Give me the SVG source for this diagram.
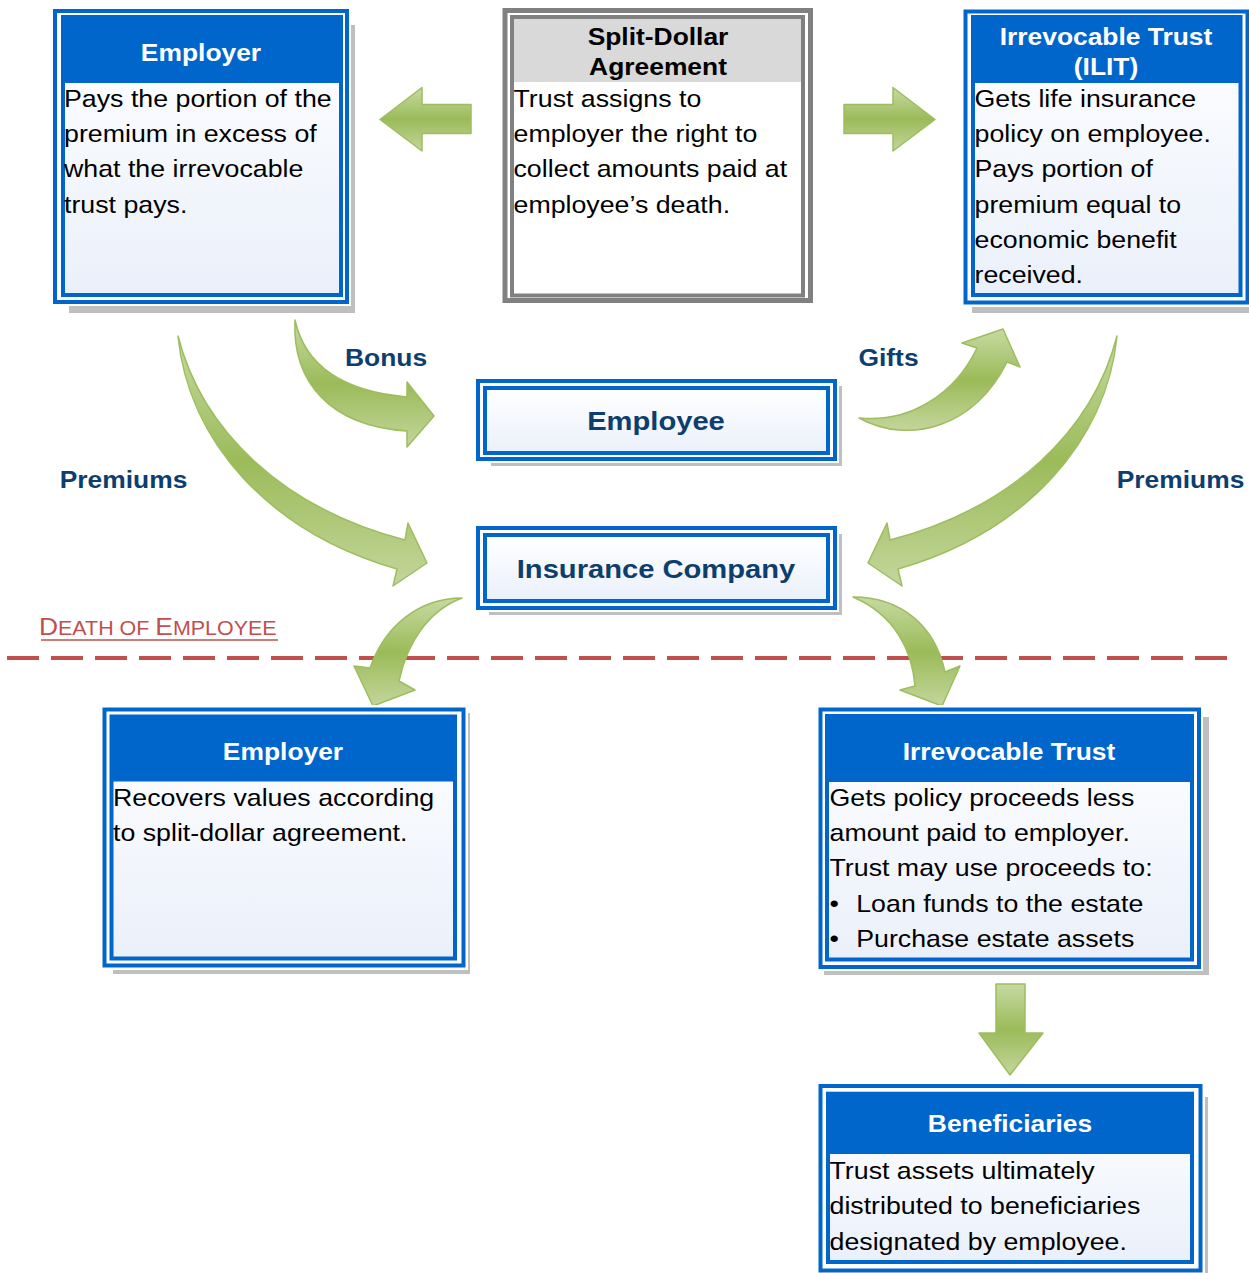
<svg xmlns="http://www.w3.org/2000/svg" width="1249" height="1273" viewBox="0 0 1249 1273">
<defs>
<linearGradient id="bodyGrad" x1="0" y1="0" x2="0" y2="1">
<stop offset="0" stop-color="#FFFFFF"/>
<stop offset="1" stop-color="#EAF0FA"/>
</linearGradient>
<linearGradient id="green" x1="0" y1="0" x2="0" y2="1">
<stop offset="0" stop-color="#C6DAA2"/>
<stop offset="0.5" stop-color="#9BBB59"/>
<stop offset="1" stop-color="#C3D69B"/>
</linearGradient>
<style>
.shadow{fill:#BFBFBF}
.halo{fill:#FFFFFF}
.outer{fill:#FFFFFF;stroke:#0066CC;stroke-width:4}
.inner{fill:url(#bodyGrad);stroke:#0066CC;stroke-width:4}
.head{fill:#0066CC}
.gouter{fill:#FFFFFF;stroke:#808080;stroke-width:5}
.ginner{fill:#FFFFFF;stroke:#808080;stroke-width:4}
.ghead{fill:#D9D9D9}
.hdr{font-family:"Liberation Sans",Arial,Helvetica,sans-serif;font-weight:bold;font-size:24px;fill:#FFFFFF;text-anchor:middle}
.ttl{font-family:"Liberation Sans",Arial,Helvetica,sans-serif;font-weight:bold;font-size:24px;fill:#000000;text-anchor:middle}
.body{font-family:"Liberation Sans",Arial,Helvetica,sans-serif;font-size:24px;fill:#000000}
.big{font-family:"Liberation Sans",Arial,Helvetica,sans-serif;font-weight:bold;font-size:26.5px;fill:#0D3E6E;text-anchor:middle}
.lbl{font-family:"Liberation Sans",Arial,Helvetica,sans-serif;font-weight:bold;font-size:24px;fill:#0D3E6E;text-anchor:middle}
.death{font-family:"Liberation Sans",Arial,Helvetica,sans-serif;fill:#C0504D}
.arrow{fill:url(#green);stroke:#9EBD5E;stroke-width:1.5;stroke-linejoin:round}
</style>
</defs>
<rect width="1249" height="1273" fill="#FFFFFF"/>

<g id="death-line">
<line x1="7" y1="658" x2="1228" y2="658" stroke="#C0504D" stroke-width="4" stroke-dasharray="32 12"/>
<text class="death" transform="translate(39 0) scale(1.1 1)"><tspan y="635" font-size="24">D</tspan><tspan font-size="19.5">EATH OF </tspan><tspan font-size="24">E</tspan><tspan font-size="19.5">MPLOYEE</tspan></text>
<line x1="41" y1="640" x2="278" y2="640" stroke="#C0504D" stroke-width="1.5"/>
</g>

<g id="connectors">
<path id="arrow-split-employer" class="arrow" d="M 380,119.5 L 422,87.5 L 422,104.5 L 471,104.5 L 471,133.5 L 422,133.5 L 422,151 Z"/>
<path id="arrow-split-ilit" class="arrow" d="M 935,119.5 L 893,87.5 L 893,104.5 L 844,104.5 L 844,133.5 L 893,133.5 L 893,151 Z"/>
<path id="arrow-bonus" class="arrow" d="M 295,320 C 292,382 330,426 407,431 L 407,447 L 434,416 L 407,382 L 407,397 C 350,392 306,370 295,320 Z"/>
<path id="arrow-premiums-left" class="arrow" d="M 178,336 C 202,430 282,508 405,540 L 408,523 L 427,563 L 393,586 L 397,569 C 268,532 188,440 178,336 Z"/>
<path id="arrow-gifts" class="arrow" d="M 859,418 C 910,446 976,426 1007,362 L 1020,367 L 1003,329 L 962,343 L 977,348 C 955,394 910,423 859,418 Z"/>
<path id="arrow-premiums-right" class="arrow" d="M 1117,336 C 1093,430 1013,508 890,540 L 887,523 L 868,563 L 902,586 L 898,569 C 1027,532 1107,440 1117,336 Z"/>
<path id="arrow-death-employer" class="arrow" d="M 462,598 C 420,598 385,625 370,668 L 354,666 L 373,706 L 415,690 L 399,681 C 408,640 430,610 462,598 Z"/>
<path id="arrow-death-trust" class="arrow" d="M 853,597 C 900,597 935,625 945,672 L 960,666 L 942,706 L 900,690 L 915,686 C 912,650 895,615 853,597 Z"/>
<path id="arrow-trust-beneficiaries" class="arrow" d="M 996,984 L 1025,984 L 1025,1033 L 1043,1033 L 1010,1075 L 979,1033 L 996,1033 Z"/>
<text class="lbl" transform="translate(386 0) scale(1.1 1)"><tspan x="0" y="366">Bonus</tspan></text>
<text class="lbl" transform="translate(888.5 0) scale(1.1 1)"><tspan x="0" y="366">Gifts</tspan></text>
<text class="lbl" transform="translate(123.5 0) scale(1.1 1)"><tspan x="0" y="488">Premiums</tspan></text>
<text class="lbl" transform="translate(1180.5 0) scale(1.1 1)"><tspan x="0" y="488">Premiums</tspan></text>
</g>

<g id="employer-top">
<rect class="shadow" x="69" y="25" width="286" height="288"/>
<rect class="halo" x="51" y="7" width="300" height="299"/>
<rect class="outer" x="55" y="11" width="292" height="291"/>
<rect class="inner" x="63" y="17" width="278" height="278"/>
<rect class="head" x="63" y="17" width="278" height="66"/>
<text class="hdr" transform="translate(201 0) scale(1.1 1)"><tspan x="0" y="61">Employer</tspan></text>
<text class="body" transform="translate(64 0) scale(1.115 1)"><tspan x="0" y="107">Pays the portion of the</tspan><tspan x="0" y="142">premium in excess of</tspan><tspan x="0" y="177">what the irrevocable</tspan><tspan x="0" y="213">trust pays.</tspan></text>
</g>

<g id="split-dollar">
<rect class="gouter" x="505" y="10.5" width="305.5" height="290"/>
<rect class="ginner" x="512" y="17" width="291" height="278.5"/>
<rect class="ghead" x="514" y="19" width="287" height="63"/>
<text class="ttl" transform="translate(658 0) scale(1.1 1)"><tspan x="0" y="45.5">Split-Dollar</tspan><tspan x="0" y="75.5">Agreement</tspan></text>
<text class="body" transform="translate(513.5 0) scale(1.115 1)"><tspan x="0" y="107">Trust assigns to</tspan><tspan x="0" y="142">employer the right to</tspan><tspan x="0" y="177">collect amounts paid at</tspan><tspan x="0" y="213">employee’s death.</tspan></text>
</g>

<g id="ilit">
<rect class="shadow" x="972" y="25" width="290" height="288"/>
<rect class="halo" x="961" y="7" width="300" height="300"/>
<rect class="outer" x="965.5" y="11.5" width="282" height="291"/>
<rect class="inner" x="973" y="17" width="267.5" height="278"/>
<rect class="head" x="973" y="17" width="267.5" height="66"/>
<text class="hdr" transform="translate(1106 0) scale(1.1 1)"><tspan x="0" y="45.5">Irrevocable Trust</tspan><tspan x="0" y="75.5">(ILIT)</tspan></text>
<text class="body" transform="translate(974.5 0) scale(1.115 1)"><tspan x="0" y="107">Gets life insurance</tspan><tspan x="0" y="142">policy on employee.</tspan><tspan x="0" y="177">Pays portion of</tspan><tspan x="0" y="213">premium equal to</tspan><tspan x="0" y="248">economic benefit</tspan><tspan x="0" y="283">received.</tspan></text>
</g>

<g id="employee">
<rect class="shadow" x="491" y="386" width="351" height="80"/>
<rect class="halo" x="474" y="377" width="365" height="86"/>
<rect class="outer" x="478" y="381" width="357" height="78"/>
<rect class="inner" x="485" y="388" width="343" height="65"/>
<text class="big" transform="translate(656 0) scale(1.1 1)"><tspan x="0" y="430">Employee</tspan></text>
</g>

<g id="insurance-company">
<rect class="shadow" x="489" y="534" width="353" height="81"/>
<rect class="halo" x="474" y="524" width="365" height="88"/>
<rect class="outer" x="478" y="528" width="357" height="80"/>
<rect class="inner" x="485" y="535" width="343" height="66"/>
<text class="big" transform="translate(656 0) scale(1.1 1)"><tspan x="0" y="578.5">Insurance Company</tspan></text>
</g>

<g id="employer-bottom">
<rect class="shadow" x="113" y="713" width="357" height="261"/>
<rect class="halo" x="100" y="705" width="368" height="265"/>
<rect class="outer" x="104.5" y="709.5" width="359" height="256"/>
<rect class="inner" x="111.5" y="716.5" width="343.5" height="242"/>
<rect class="head" x="111.5" y="716.5" width="343.5" height="65"/>
<text class="hdr" transform="translate(283 0) scale(1.1 1)"><tspan x="0" y="760">Employer</tspan></text>
<text class="body" transform="translate(113 0) scale(1.115 1)"><tspan x="0" y="806">Recovers values according</tspan><tspan x="0" y="841">to split-dollar agreement.</tspan></text>
</g>

<g id="irrevocable-trust">
<rect class="shadow" x="824" y="717" width="385" height="258"/>
<rect class="halo" x="816" y="705" width="387" height="266"/>
<rect class="outer" x="820.5" y="709.5" width="378.5" height="257.5"/>
<rect class="inner" x="827" y="716" width="365" height="243.5"/>
<rect class="head" x="827" y="716" width="365" height="66"/>
<text class="hdr" transform="translate(1009 0) scale(1.1 1)"><tspan x="0" y="760">Irrevocable Trust</tspan></text>
<text class="body" transform="translate(829.5 0) scale(1.115 1)"><tspan x="0" y="806">Gets policy proceeds less</tspan><tspan x="0" y="841">amount paid to employer.</tspan><tspan x="0" y="876">Trust may use proceeds to:</tspan><tspan x="0" y="912">•</tspan><tspan x="24" y="912">Loan funds to the estate</tspan><tspan x="0" y="947">•</tspan><tspan x="24" y="947">Purchase estate assets</tspan></text>
</g>

<g id="beneficiaries">
<rect class="shadow" x="836" y="1097" width="372" height="180"/>
<rect class="halo" x="816" y="1082" width="389" height="191"/>
<rect class="outer" x="820.5" y="1086" width="380" height="184.5"/>
<rect class="inner" x="828" y="1093.7" width="364" height="168.3"/>
<rect class="head" x="828" y="1093.7" width="364" height="60.3"/>
<text class="hdr" transform="translate(1010 0) scale(1.1 1)"><tspan x="0" y="1132.5">Beneficiaries</tspan></text>
<text class="body" transform="translate(829.5 0) scale(1.115 1)"><tspan x="0" y="1179">Trust assets ultimately</tspan><tspan x="0" y="1214">distributed to beneficiaries</tspan><tspan x="0" y="1250">designated by employee.</tspan></text>
</g>
</svg>
